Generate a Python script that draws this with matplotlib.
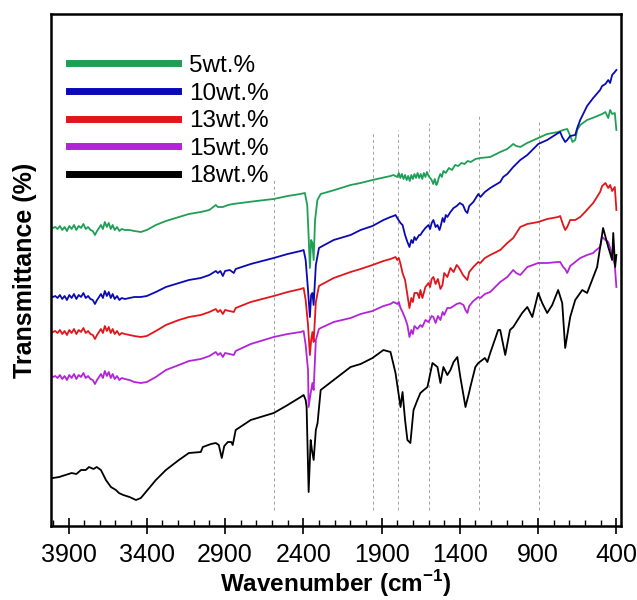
import matplotlib
matplotlib.use("Agg")
import matplotlib.pyplot as plt
from matplotlib.ticker import MultipleLocator

plt.rcParams['font.family'] = ['Liberation Sans', 'DejaVu Sans']
plt.rcParams['mathtext.fontset'] = 'custom'
plt.rcParams['mathtext.rm'] = 'Liberation Sans'
plt.rcParams['mathtext.bf'] = 'Liberation Sans:bold'

# ---- data (wavenumber in cm-1, transmittance in arbitrary offset units) ----
labels = ['5wt.%', '10wt.%', '13wt.%', '15wt.%', '18wt.%']
colors = ['#1f9f55', '#0a0ab4', '#e0161b', '#b324d8', '#000000']

# water vapour region shared wavenumbers for the top four curves
wn_vap = [4000, 3985, 3970, 3955, 3940, 3925, 3910, 3895, 3880, 3865, 3850, 3835,
          3820, 3805, 3790, 3775, 3760, 3745, 3731, 3718, 3705, 3693, 3680, 3668,
          3655, 3643, 3630, 3618, 3605, 3590, 3575, 3560, 3540, 3510, 3480, 3438]

wn_5 = wn_vap + [3400, 3342, 3278, 3195, 3131, 3055, 3000, 2959, 2946, 2914, 2880,
                 2850, 2800, 2700, 2589, 2500, 2420, 2390, 2375, 2365, 2358, 2350,
                 2342, 2334, 2325, 2310, 2289, 2200, 2098, 2034, 1958, 1900, 1870,
                 1843, 1824, 1800, 1790, 1780, 1770, 1760, 1750, 1740, 1730, 1720,
                 1710, 1700, 1690, 1680, 1670, 1660, 1650, 1640, 1630, 1620, 1610,
                 1600, 1590, 1580, 1570, 1560, 1550, 1543, 1535, 1525, 1515, 1505,
                 1490, 1470, 1450, 1430, 1410, 1390, 1370, 1350, 1330, 1300, 1269,
                 1206, 1142, 1097, 1059, 1040, 1014, 970, 899, 842, 772, 740, 714,
                 700, 680, 663, 650, 631, 587, 536, 491, 470, 452, 440, 427, 410, 400]
t_5 = [302, 303, 301, 304, 300, 303, 299, 304, 301, 305, 300, 304, 302, 306, 301,
       303, 300, 299, 295, 299, 302, 305, 301, 308, 303, 307, 301, 305, 300, 303,
       299, 301, 300, 300, 299, 298,
       300, 305, 309, 313, 316, 318, 320, 325, 323, 323, 325, 326, 327, 329, 331,
       334, 336, 337, 325, 290, 262, 290, 287, 270, 310, 330, 336, 340, 345, 347,
       350, 352, 353, 354, 355, 353, 357, 352, 356, 351, 355, 350, 354, 349, 355,
       351, 356, 352, 357, 352, 356, 351, 357, 353, 358, 354, 352, 350, 346, 351,
       345, 347, 352, 356, 353, 359, 357, 362, 360, 365, 364, 367, 366, 369, 368,
       371, 372, 373, 378, 381, 386, 384, 383, 387, 392, 396, 398, 400, 401, 396,
       388, 390, 400, 405, 410, 413, 416, 418, 412, 420, 416, 417, 400]

wn_10 = wn_vap + [3400, 3342, 3278, 3195, 3131, 3055, 3000, 2959, 2946, 2930, 2914,
                  2900, 2870, 2844, 2832, 2736, 2589, 2500, 2417, 2398, 2385, 2370,
                  2358, 2350, 2342, 2334, 2320, 2300, 2289, 2206, 2098, 2034, 1958,
                  1888, 1843, 1824, 1811, 1792, 1779, 1766, 1750, 1735, 1722, 1710,
                  1700, 1690, 1680, 1660, 1652, 1640, 1620, 1600, 1590, 1580, 1569,
                  1555, 1543, 1530, 1524, 1510, 1500, 1490, 1480, 1460, 1440, 1420,
                  1400, 1380, 1364, 1352, 1340, 1314, 1282, 1269, 1240, 1206, 1142,
                  1123, 1097, 1059, 1014, 969, 899, 842, 772, 759, 746, 727, 714,
                  695, 663, 650, 631, 587, 548, 504, 491, 470, 452, 440, 427, 410, 400]
t_10 = [233, 234, 232, 235, 231, 234, 230, 235, 232, 236, 231, 235, 233, 237, 232,
        234, 231, 230, 226, 230, 233, 236, 232, 239, 234, 238, 232, 236, 231, 234,
        230, 232, 231, 232, 233, 233,
        234, 238, 243, 247, 250, 252, 255, 259, 257, 259, 254, 259, 260, 257, 261,
        266, 272, 276, 279, 280, 270, 240, 213, 235, 237, 225, 265, 282, 283, 290,
        295, 300, 304, 310, 313, 314, 315, 310, 307, 305, 295, 288, 283, 290, 287,
        293, 290, 295, 295, 298, 302, 305, 301, 307, 310, 303, 305, 300, 303, 312,
        308, 315, 313, 318, 322, 324, 327, 325, 319, 317, 324, 328, 336, 333, 338,
        342, 348, 353, 356, 363, 370, 375, 386, 390, 397, 398, 393, 388, 390, 394,
        395, 402, 410, 424, 432, 440, 444, 446, 450, 447, 455, 458, 460]

wn_13 = wn_vap + [3400, 3342, 3278, 3195, 3131, 3055, 3000, 2959, 2946, 2930, 2914,
                  2900, 2844, 2832, 2736, 2589, 2500, 2417, 2398, 2385, 2370, 2358,
                  2350, 2342, 2334, 2320, 2300, 2289, 2206, 2098, 2034, 1958, 1888,
                  1843, 1811, 1800, 1790, 1779, 1766, 1750, 1735, 1722, 1710, 1700,
                  1690, 1671, 1660, 1652, 1639, 1620, 1600, 1590, 1580, 1569, 1555,
                  1540, 1524, 1511, 1500, 1480, 1460, 1440, 1420, 1409, 1397, 1380,
                  1364, 1352, 1340, 1314, 1282, 1269, 1240, 1206, 1142, 1097, 1059,
                  1014, 969, 899, 842, 772, 759, 740, 727, 714, 695, 663, 631, 600,
                  548, 536, 504, 491, 470, 452, 440, 427, 410, 400]
t_13 = [198, 199, 197, 200, 196, 199, 195, 200, 197, 201, 196, 200, 198, 202, 197,
        199, 196, 195, 191, 195, 198, 201, 197, 204, 199, 203, 197, 201, 196, 199,
        195, 197, 196, 195, 194, 193,
        194, 199, 205, 210, 213, 215, 218, 221, 218, 220, 216, 220, 218, 222, 228,
        234, 238, 241, 242, 230, 205, 175, 190, 198, 188, 228, 244, 245, 252, 258,
        261, 265, 269, 271, 273, 270, 272, 266, 257, 250, 235, 222, 232, 228, 237,
        237, 232, 240, 232, 243, 247, 243, 251, 253, 246, 251, 241, 245, 257, 253,
        262, 258, 265, 263, 260, 255, 252, 250, 258, 263, 268, 267, 272, 275, 280,
        287, 292, 303, 306, 308, 311, 313, 314, 305, 300, 303, 310, 310, 313, 318,
        327, 330, 338, 344, 347, 342, 345, 339, 343, 320]

wn_15 = wn_vap + [3400, 3342, 3278, 3195, 3131, 3055, 3000, 2959, 2946, 2930, 2914,
                  2900, 2844, 2832, 2736, 2589, 2500, 2417, 2398, 2385, 2370, 2366,
                  2355, 2342, 2334, 2320, 2300, 2289, 2206, 2098, 2034, 1958, 1888,
                  1843, 1824, 1811, 1800, 1790, 1779, 1766, 1750, 1735, 1722, 1710,
                  1700, 1690, 1671, 1652, 1640, 1620, 1600, 1580, 1569, 1555, 1540,
                  1524, 1510, 1500, 1480, 1460, 1440, 1420, 1400, 1377, 1364, 1352,
                  1340, 1314, 1282, 1269, 1240, 1206, 1142, 1097, 1059, 1040, 1014,
                  969, 899, 842, 772, 759, 740, 727, 714, 695, 663, 631, 587, 548,
                  536, 504, 491, 470, 452, 440, 427, 410, 400]
t_15 = [153, 154, 152, 155, 151, 154, 150, 155, 152, 156, 151, 155, 153, 157, 152,
        154, 151, 150, 146, 150, 153, 156, 152, 159, 154, 158, 152, 156, 151, 154,
        150, 152, 151, 150, 148, 147,
        148, 153, 160, 165, 169, 171, 174, 178, 175, 177, 173, 177, 175, 179, 186,
        193, 196, 198, 199, 185, 160, 123, 135, 147, 140, 190, 201, 202, 208, 212,
        216, 219, 224, 226, 228, 227, 226, 228, 222, 218, 212, 205, 193, 200, 196,
        204, 201, 205, 203, 210, 208, 214, 213, 207, 214, 210, 218, 215, 222, 222,
        224, 226, 227, 225, 220, 217, 224, 229, 233, 232, 236, 238, 248, 253, 260,
        257, 255, 263, 267, 267, 268, 268, 263, 261, 257, 264, 268, 272, 275, 277,
        279, 283, 293, 290, 288, 282, 275, 265, 243]

wn_18 = [4000, 3960, 3920, 3880, 3850, 3820, 3790, 3769, 3740, 3720, 3693, 3661,
         3629, 3597, 3578, 3550, 3510, 3469, 3438, 3406, 3342, 3278, 3195, 3131,
         3055, 3042, 2990, 2959, 2940, 2921, 2905, 2882, 2860, 2851, 2832, 2736,
         2589, 2500, 2417, 2398, 2385, 2379, 2366, 2353, 2345, 2334, 2320, 2309,
         2289, 2206, 2098, 2034, 1958, 1888, 1843, 1811, 1779, 1766, 1750, 1735,
         1716, 1696, 1671, 1652, 1630, 1607, 1575, 1543, 1524, 1505, 1480, 1460,
         1440, 1416, 1397, 1377, 1364, 1340, 1333, 1301, 1282, 1240, 1224, 1206,
         1155, 1142, 1110, 1080, 1059, 1002, 969, 937, 899, 874, 842, 810, 772,
         746, 727, 695, 663, 618, 587, 555, 523, 485, 452, 427, 420, 408, 400]
t_18 = [52, 53, 55, 57, 56, 60, 60, 63, 61, 63, 60, 50, 43, 40, 37, 35, 33, 30, 32,
        38, 50, 60, 70, 77, 78, 83, 86, 87, 85, 72, 84, 88, 88, 85, 100, 110, 117,
        125, 133, 135, 130, 123, 38, 90, 80, 70, 100, 107, 140, 150, 163, 166, 172,
        180, 178, 157, 123, 138, 110, 90, 87, 120, 130, 137, 140, 143, 167, 163,
        147, 163, 155, 160, 168, 173, 153, 135, 123, 138, 143, 163, 167, 172, 168,
        177, 200, 200, 175, 200, 203, 217, 223, 213, 237, 227, 217, 225, 240, 227,
        182, 213, 230, 240, 237, 250, 263, 302, 283, 270, 297, 263, 275]

series_wn = [wn_5, wn_10, wn_13, wn_15, wn_18]
series_t = [t_5, t_10, t_13, t_15, t_18]

# dashed reference lines: position, top and bottom
ref_wn = [2590, 1955, 1795, 1600, 1280, 895]
ref_top = [350, 398, 400, 407, 415, 408]
ref_bottom = 20

fig = plt.figure(figsize=(6.37, 6.0), dpi=100)
ax = fig.add_axes([0.0793, 0.1233, 0.8957, 0.8534])

ax.vlines(ref_wn, ref_bottom, ref_top, colors='#a0a0a0', linestyles=(0, (3, 3)),
          linewidth=0.7)

for wn, t, lab, col in zip(series_wn, series_t, labels, colors):
    ax.plot(wn, t, color=col, lw=1.3, label=lab)

ax.set_xlim(4015, 370)
ax.set_ylim(4, 516)
ax.set_yticks([])
ax.set_xticks([3900, 3400, 2900, 2400, 1900, 1400, 900, 400])
ax.xaxis.set_minor_locator(MultipleLocator(100))
ax.tick_params(axis='x', which='major', direction='inout', length=12, width=1.2,
               labelsize=18, pad=6)
ax.tick_params(axis='x', which='minor', direction='in', length=4, width=1)
for s in ax.spines.values():
    s.set_linewidth(1.8)

ax.set_xlabel(r'Wavenumber (cm$^{\mathbf{-1}}$)', fontsize=17.5, fontweight='bold',
              labelpad=1)
ax.set_ylabel('Transmittance (%)', fontsize=18, fontweight='bold', labelpad=10)

leg = ax.legend(loc='upper left', bbox_to_anchor=(0.032, 0.92), frameon=False,
                fontsize=17.5, handlelength=4.5, handletextpad=0.45,
                labelspacing=0.23, borderpad=0, borderaxespad=0)
for line in leg.get_lines():
    line.set_linewidth(5)

fig.savefig('out.png', dpi=100)
